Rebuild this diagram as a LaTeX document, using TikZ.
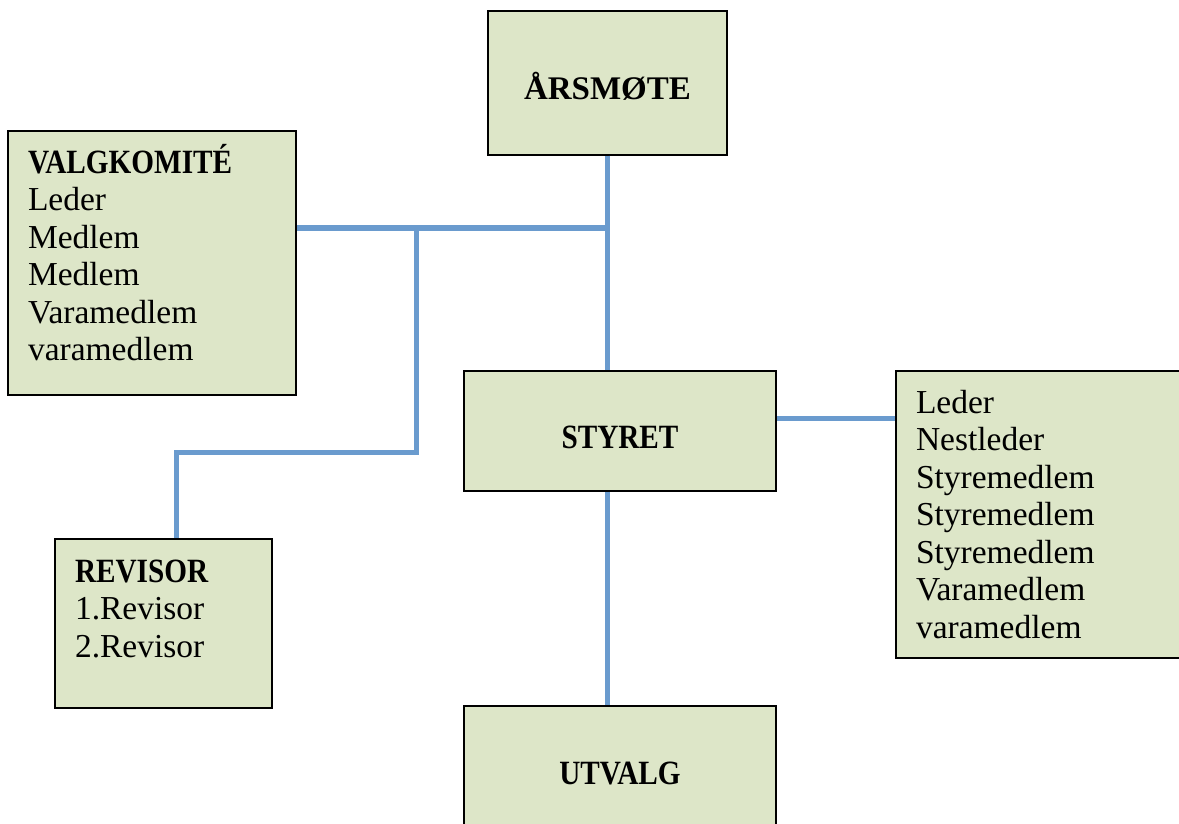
\documentclass[tikz,border=0pt]{standalone}
\usepackage{fontspec}
\setmainfont{Liberation Serif}
\newfontfamily\headfam[FakeStretch=0.86]{Liberation Serif}
\usetikzlibrary{positioning}
\definecolor{boxgreen}{RGB}{221,230,200}
\definecolor{linkblue}{RGB}{106,155,206}
\newcommand{\headfont}{\headfam\fontsize{34}{37.5}\selectfont\bfseries}
\tikzset{
	box/.style={draw=black, line width=1.5pt, fill=boxgreen, inner sep=0pt,
		font=\headfont},
	listbox/.style={box, font=\fontsize{33.5}{37.5}\selectfont, align=left,
		inner xsep=20pt, inner ysep=0pt},
	link/.style={linkblue, line width=5pt}
}
\begin{document}
\begin{tikzpicture}[x=1pt, y=-1pt]
	\useasboundingbox (0,0) rectangle (1179,824);
	\clip (0,0) rectangle (1179,824);
	\node[box, minimum width=239pt, minimum height=144pt, text height=34pt,
		font=\fontsize{33}{37.5}\selectfont\bfseries] (aarsmote) at (607.5,83) {ÅRSMØTE};
	\node[listbox, minimum width=288pt, minimum height=264pt, text width=248pt] (valg) at (152,263)
		{{\headfont VALGKOMITÉ}\\Leder\\Medlem\\Medlem\\Varamedlem\\varamedlem\\[-27.5pt]\strut};
	\node[box, minimum width=312pt, minimum height=120pt, text height=34.5pt] (styret) at (620,431) {STYRET};
	\node[listbox, minimum width=290pt, minimum height=287pt, text width=250pt] (styrelist) at (1041,514.5)
		{Leder\\Nestleder\\Styremedlem\\Styremedlem\\Styremedlem\\Varamedlem\\varamedlem};
	\node[listbox, minimum width=217pt, minimum height=169pt, text width=177pt] (revisor) at (163.5,623.5)
		{{\headfont REVISOR}\\1.Revisor\\2.Revisor\\[-19pt]\strut};
	\node[box, minimum width=312pt, minimum height=134pt] (utvalg) at (620,773) {UTVALG};
	% connectors
	\path
	(607.5,228) coordinate(hub)
	(416,228) coordinate(split)
	(176,452) coordinate(knee)
	;
	\draw[link] (aarsmote.south) -- (aarsmote.south |- styret.north);
	\draw[link] (valg.east |- hub) -- (hub);
	\draw[link] (split) -- (split |- knee) -- (knee) -- (knee |- revisor.north);
	\draw[link] ([yshift=13pt]styret.east) -- ([yshift=13pt]styret.east -| styrelist.west);
	\draw[link] (aarsmote.south |- styret.south) -- (aarsmote.south |- utvalg.north);
\end{tikzpicture}
\end{document}
